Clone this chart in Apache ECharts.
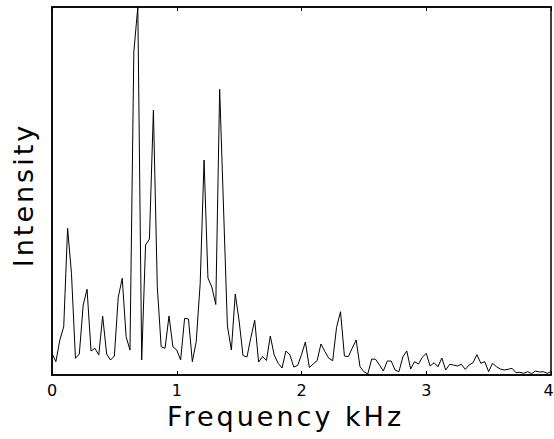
<!DOCTYPE html>
<html>
<head>
<meta charset="utf-8">
<script src="https://cdn.jsdelivr.net/npm/echarts@6/dist/echarts.min.js"></script>
<style>
  html, body { margin: 0; padding: 0; background: #fff; }
  #chart { width: 554px; height: 439px; }
  #chart svg text[style*="27px"] { letter-spacing: 3px; }
</style>
</head>
<body>
<div id="chart"></div>
<script>
// Frequency bins (kHz)
const frequencies = [
  0, 0.031, 0.063, 0.094, 0.125, 0.156, 0.188, 0.219, 0.25, 0.281, 0.313, 0.344, 0.375, 0.406, 0.438, 0.469,
  0.5, 0.531, 0.563, 0.594, 0.625, 0.656, 0.688, 0.719, 0.75, 0.781, 0.813, 0.844, 0.875, 0.906, 0.938, 0.969,
  1, 1.031, 1.063, 1.094, 1.125, 1.156, 1.188, 1.219, 1.25, 1.281, 1.313, 1.344, 1.375, 1.406, 1.438, 1.469,
  1.5, 1.531, 1.563, 1.594, 1.625, 1.656, 1.688, 1.719, 1.75, 1.781, 1.813, 1.844, 1.875, 1.906, 1.938, 1.969,
  2, 2.031, 2.063, 2.094, 2.125, 2.156, 2.188, 2.219, 2.25, 2.281, 2.313, 2.344, 2.375, 2.406, 2.438, 2.469,
  2.5, 2.531, 2.563, 2.594, 2.625, 2.656, 2.688, 2.719, 2.75, 2.781, 2.813, 2.844, 2.875, 2.906, 2.938, 2.969,
  3, 3.031, 3.063, 3.094, 3.125, 3.156, 3.188, 3.219, 3.25, 3.281, 3.313, 3.344, 3.375, 3.406, 3.438, 3.469,
  3.5, 3.531, 3.563, 3.594, 3.625, 3.656, 3.688, 3.719, 3.75, 3.781, 3.813, 3.844, 3.875, 3.906, 3.938, 3.969,
  4
];

// Intensity (arbitrary units)
const intensity = [
  21.7, 13.3, 35, 48.3, 146.7, 101.7, 16.7, 21, 70, 85.7,
  24, 26.7, 20, 59, 21, 15, 19, 77.7, 96.7, 38.3,
  25, 323.3, 368, 15, 130, 136, 265, 88.3, 28.3, 26.7,
  59, 28.3, 25, 15, 56.7, 56, 13.3, 33.3, 91.7, 215,
  97, 88, 70.5, 285.7, 167, 49, 25, 81, 54, 19.5,
  18, 37.5, 54.7, 13, 18.5, 14.5, 39, 20, 11.7, 7,
  24, 20.5, 8, 9.5, 20.3, 33, 7.5, 11, 14.3, 31,
  23.3, 16.7, 14.3, 47.7, 63.3, 19, 18.3, 26.7, 35, 8.3,
  3.3, 1, 16, 15.7, 10, 4, 14, 14, 5, 3.3,
  18.3, 24, 6, 13.3, 11, 17.7, 21.7, 9, 12.3, 8.3,
  17, 5, 10.7, 10, 9, 10.7, 5.7, 10, 12.3, 20.3,
  11.7, 13.3, 3.3, 11.7, 8.3, 6, 5, 5.7, 6.7, 2.3,
  2.7, 1.7, 3.3, 1.3, 4, 3, 3.3, 1.7, 3.3
];

const xTicks = [0, 1, 2, 3, 4];
const xTitle = 'Frequency kHz';
const yTitle = 'Intensity';

const seriesData = frequencies.map((f, i) => [f, intensity[i]]);
const xMax = xTicks[xTicks.length - 1];

const chart = echarts.init(document.getElementById('chart'), null, { renderer: 'svg' });
const tickStyle = { show: true, inside: true, length: 4, lineStyle: { color: '#000', width: 1 } };
chart.setOption({
  animation: false,
  backgroundColor: '#fff',
  grid: {
    left: 52, right: 3, top: 7, bottom: 64,
    containLabel: false, outerBoundsMode: 'none',
    show: true, borderColor: '#000', borderWidth: 1.5, backgroundColor: 'transparent'
  },
  xAxis: [
    {
      type: 'value', position: 'bottom',
      min: xTicks[0], max: xMax, interval: 1,
      axisLine: { show: true, onZero: false, lineStyle: { color: '#000', width: 1.5 } },
      axisTick: tickStyle,
      splitLine: { show: false },
      axisLabel: {
        show: true, color: '#000', fontSize: 16, fontFamily: 'DejaVu Sans', margin: 7, hideOverlap: false,
        formatter: v => (v === xMax ? '{last|' + v + '}' : String(v)),
        rich: { last: { color: '#000', fontSize: 16, fontFamily: 'DejaVu Sans', padding: [0, 5, 0, 0] } }
      },
      name: xTitle, nameLocation: 'middle', nameGap: 24,
      nameTextStyle: { color: '#000', fontSize: 27, fontFamily: 'DejaVu Sans', padding: [0, 32, 0, 0] }
    },
    {
      type: 'value', position: 'top',
      min: xTicks[0], max: xMax, interval: 1,
      axisLine: { show: true, onZero: false, lineStyle: { color: '#000', width: 1.5 } },
      axisTick: tickStyle,
      splitLine: { show: false },
      axisLabel: { show: false }
    }
  ],
  yAxis: [
    {
      type: 'value', position: 'left', min: 0, max: 368,
      axisLine: { show: true, onZero: false, lineStyle: { color: '#000', width: 1.5 } },
      axisTick: { show: false }, splitLine: { show: false }, axisLabel: { show: false },
      name: yTitle, nameLocation: 'middle', nameGap: 15, nameRotate: 90,
      nameTextStyle: { color: '#000', fontSize: 27, fontFamily: 'DejaVu Sans', padding: [0, 8, 0, 0] }
    }
  ],
  series: [
    {
      type: 'line',
      xAxisIndex: 0, yAxisIndex: 0,
      data: seriesData,
      symbol: 'none', showSymbol: false,
      lineStyle: { color: '#000', width: 1 },
      silent: true
    }
  ]
});
</script>
</body>
</html>
